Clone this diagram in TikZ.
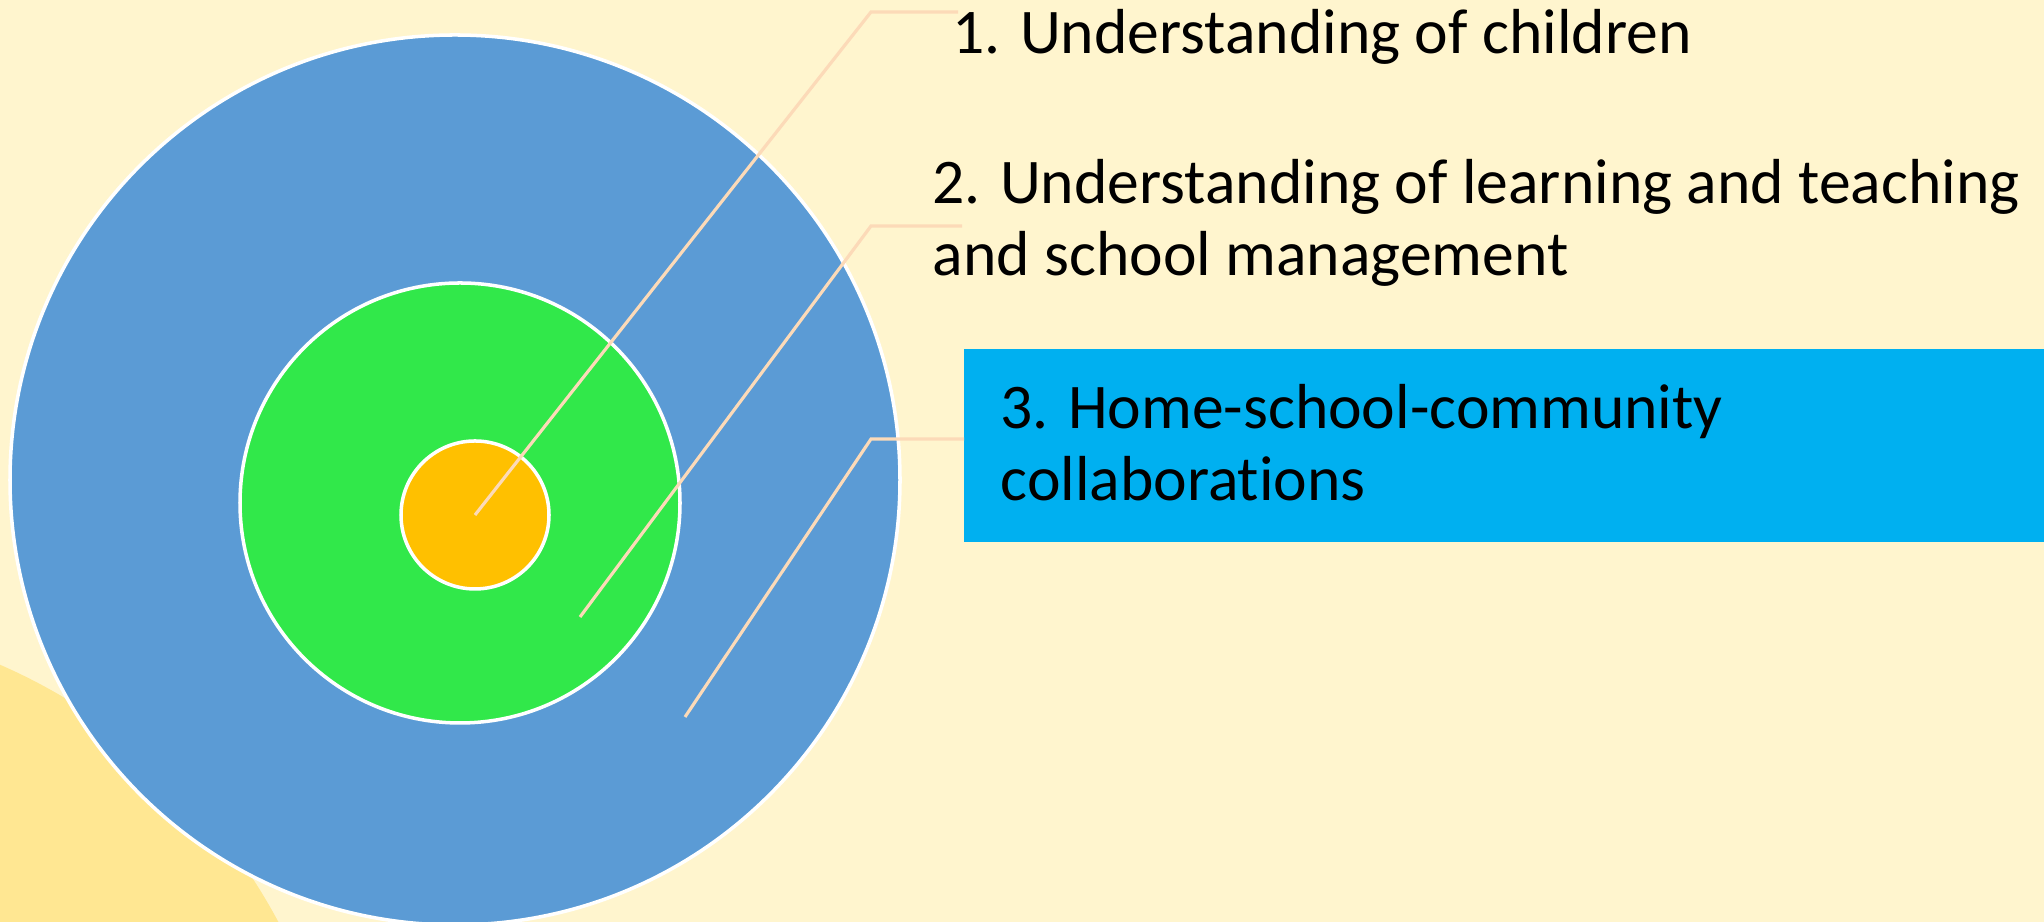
\documentclass[tikz,border=0pt]{standalone}
\usepackage{fontspec}
\setmainfont{Carlito}[Ligatures=NoCommon]
\usepackage{xcolor}
\usepackage{tikz}
\usetikzlibrary{calc}
\usetikzlibrary{backgrounds}

\definecolor{cream}{HTML}{FFF5CE}
\definecolor{sand}{HTML}{FFE792}
\definecolor{ringblue}{HTML}{5B9BD5}
\definecolor{ringgreen}{HTML}{31E84A}
\definecolor{ringorange}{HTML}{FFC000}
\definecolor{boxblue}{HTML}{00B0F0}
\definecolor{peach}{HTML}{FCDAB8}

\begin{document}
\begin{tikzpicture}[ring/.style={draw=white, line width=1pt},
  leader/.style={color=peach, line width=0.9pt},
  label/.style={anchor=base west, align=left, inner sep=0pt, font=\fontsize{18.1}{20.5}\selectfont}]
\useasboundingbox (0,0) rectangle (20.44,9.22);
\clip (0,0) rectangle (20.44,9.22);
\fill [color=cream] (0,0) rectangle (20.44,9.22);
\fill [color=sand] (-2.30,-2.71) circle (5.76);

% the three rings
\fill [color=ringblue, ring] (4.55,4.42) circle (4.45);
\fill [color=ringgreen, ring] (4.60,4.19) circle (2.20);
\fill [color=ringorange, ring] (4.75,4.07) circle (0.74);

% the highlighted item
\fill [color=boxblue] (9.64,3.80) rectangle (20.44,5.73);

% labels (anchored at the baseline of the last line)
\node [label] (t1) at (9.52,8.68) {1. Understanding of children};
\node [label] (t2) at (9.32,6.46) {2. Understanding of learning and teaching\\and school management};
\node [label] (t3) at (10.00,4.21) {3. Home-school-community\\collaborations};

% leader lines
\coordinate (c1) at (4.75,4.07);
\coordinate (k1) at (8.71,9.10);
\coordinate (e1) at (9.58,9.10);
\coordinate (c2) at (5.80,3.05);
\coordinate (k2) at (8.71,6.96);
\coordinate (e2) at (9.62,6.96);
\coordinate (c3) at (6.85,2.05);
\coordinate (k3) at (8.71,4.83);
\coordinate (e3) at (9.64,4.83);
\draw [leader] (c1) -- (k1) -- (e1);
\draw [leader] (c2) -- (k2) -- (e2);
\draw [leader] (c3) -- (k3) -- (e3);
\end{tikzpicture}
\end{document}
